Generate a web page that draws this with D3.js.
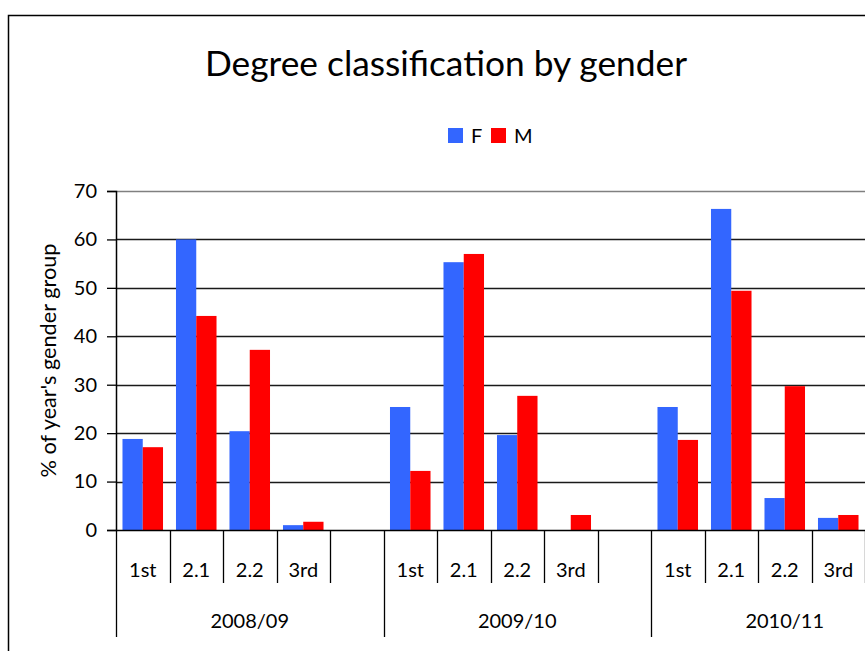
<!DOCTYPE html>
<html>
<head>
<meta charset="utf-8">
<script src="https://cdn.jsdelivr.net/npm/d3@7"></script>
<style>
  html, body { margin: 0; padding: 0; background: #fff; }
  svg { display: block; }
  text { font-family: Lato, "Open Sans", sans-serif; fill: #000; }
</style>
</head>
<body>
<svg id="chart" width="865" height="651"></svg>
<script>
// Academic years and degree classes (each year has one blank spacer slot after "3rd")
const years = ["2008/09", "2009/10", "2010/11"];
const classes = ["1st", "2.1", "2.2", "3rd"];
const seriesNames = ["F", "M"];
const seriesColors = ["#3366FF", "#FF0000"];

// % of the year's gender group, in order year by year, class by class
const femaleValues = [18.8, 60.0, 20.4, 1.0, 25.4, 55.3, 19.6, 0.0, 25.4, 66.3, 6.6, 2.5];
const maleValues   = [17.1, 44.2, 37.2, 1.7, 12.2, 57.0, 27.7, 3.1, 18.6, 49.4, 29.7, 3.1];

const yTicks = [0, 10, 20, 30, 40, 50, 60, 70];

const svg = d3.select("#chart");
const W = 865, H = 651;
const labelSize = "20px";

// plot geometry
const plotLeft = 116, plotTop = 191, plotBottom = 530;
const slotW = 53.5;
const slotsPerYear = classes.length + 1;

// scale a text element's font size so it spans the given width
function fitWidth(sel, width) {
  const node = sel.node();
  const size = parseFloat(sel.style("font-size"));
  const len = node.getComputedTextLength();
  if (len > 0) sel.style("font-size", (size * width / len).toFixed(2) + "px");
  return sel;
}

// one slot per class plus one empty slot per year
const slotKeys = [];
years.forEach(yr => {
  classes.forEach(c => slotKeys.push(yr + "|" + c));
  slotKeys.push(yr + "|gap");
});

const x = d3.scaleBand()
  .domain(slotKeys)
  .range([plotLeft, plotLeft + slotW * slotKeys.length])
  .paddingInner(0).paddingOuter(0);

const xSeries = d3.scaleBand()
  .domain(seriesNames)
  .range([0, x.bandwidth()])
  .paddingOuter(0.32).paddingInner(0);

const y = d3.scaleLinear().domain([0, 70]).range([plotBottom, plotTop]);

// chart frame
svg.append("path")
  .attr("d", `M8.5,${H + 2} V15.5 H${W + 2}`)
  .attr("fill", "none").attr("stroke", "#000").attr("stroke-width", 1.5);

// title
const title = svg.append("text")
  .attr("x", 446).attr("y", 76)
  .attr("text-anchor", "middle")
  .style("font-size", "35px")
  .text("Degree classification by gender");
fitWidth(title, 482);

// legend
const legend = svg.append("g");
const legendItems = [
  { name: "F", color: seriesColors[0], x: 448 },
  { name: "M", color: seriesColors[1], x: 491 }
];
legendItems.forEach(d => {
  legend.append("rect")
    .attr("x", d.x).attr("y", 128).attr("width", 15).attr("height", 15)
    .attr("fill", d.color);
  legend.append("text")
    .attr("x", d.x + 23).attr("y", 142.5)
    .style("font-size", labelSize)
    .text(d.name);
});

// gridlines
svg.append("g")
  .selectAll("line")
  .data(yTicks.filter(t => t > 0))
  .join("line")
  .attr("x1", plotLeft).attr("x2", W)
  .attr("y1", d => Math.round(y(d)) + 0.5)
  .attr("y2", d => Math.round(y(d)) + 0.5)
  .attr("stroke", d => d === 70 ? "#808080" : "#1a1a1a")
  .attr("stroke-width", 1.3);

// y axis
const yAxis = d3.axisLeft(y).tickValues(yTicks).tickSize(9).tickPadding(10);
const yG = svg.append("g")
  .attr("transform", `translate(${plotLeft},0)`)
  .call(yAxis);
yG.select(".domain").attr("stroke", "#000").attr("stroke-width", 1.5);
yG.selectAll(".tick line").attr("stroke", "#000").attr("stroke-width", 1.3);
yG.selectAll(".tick text")
  .style("font-family", "Lato, 'Open Sans', sans-serif")
  .style("font-size", labelSize)
  .attr("fill", "#000");

// y axis title
const yTitle = svg.append("text")
  .attr("transform", `translate(56,${(plotTop + plotBottom) / 2}) rotate(-90)`)
  .attr("text-anchor", "middle")
  .style("font-size", "19px")
  .text("% of year's gender group");
fitWidth(yTitle, 234);

// bars
const rows = [];
years.forEach((yr, i) => {
  classes.forEach((c, j) => {
    const idx = i * classes.length + j;
    rows.push({ key: yr + "|" + c, series: "F", value: femaleValues[idx] });
    rows.push({ key: yr + "|" + c, series: "M", value: maleValues[idx] });
  });
});

svg.append("g")
  .selectAll("rect")
  .data(rows)
  .join("rect")
  .attr("x", d => x(d.key) + xSeries(d.series))
  .attr("width", xSeries.bandwidth())
  .attr("y", d => y(d.value))
  .attr("height", d => y(0) - y(d.value))
  .attr("fill", d => seriesColors[seriesNames.indexOf(d.series)]);

// category axis baseline
svg.append("line")
  .attr("x1", plotLeft).attr("x2", W)
  .attr("y1", plotBottom + 0.5).attr("y2", plotBottom + 0.5)
  .attr("stroke", "#000").attr("stroke-width", 1.5);

// slot dividers: short between classes, long between years
const catAxis = svg.append("g");
slotKeys.forEach((k, i) => {
  const xPos = Math.round(x(k)) + 0.5;
  const isYearStart = i % slotsPerYear === 0;
  catAxis.append("line")
    .attr("x1", xPos).attr("x2", xPos)
    .attr("y1", plotBottom).attr("y2", isYearStart ? 637 : 583)
    .attr("stroke", "#000").attr("stroke-width", 1.3);
});

// class labels
catAxis.selectAll("text.cls")
  .data(slotKeys.filter(k => !k.endsWith("|gap")))
  .join("text")
  .attr("class", "cls")
  .attr("x", d => x(d) + x.bandwidth() / 2)
  .attr("y", 577)
  .attr("text-anchor", "middle")
  .style("font-size", labelSize)
  .text(d => d.split("|")[1]);

// year labels
catAxis.selectAll("text.yr")
  .data(years)
  .join("text")
  .attr("class", "yr")
  .attr("x", yr => x(yr + "|1st") + x.bandwidth() * slotsPerYear / 2)
  .attr("y", 628)
  .attr("text-anchor", "middle")
  .style("font-size", labelSize)
  .text(yr => yr);
</script>
</body>
</html>
